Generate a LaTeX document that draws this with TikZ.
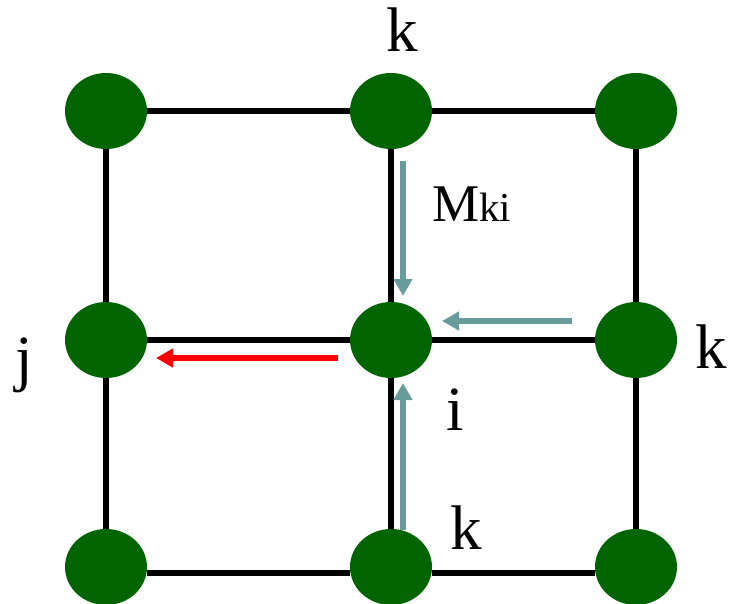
\documentclass[tikz,border=0pt]{standalone}
\usepackage{fontspec}
\setmainfont{Liberation Serif}
\usetikzlibrary{shapes.geometric,arrows.meta}

\definecolor{sitegreen}{RGB}{0,100,0}
\definecolor{msgteal}{RGB}{104,156,156}

\begin{document}
\begin{tikzpicture}[x=1pt, y=-1pt]
    \tikzset{site/.style={ellipse, fill=sitegreen, inner sep=0pt, minimum width=82pt, minimum height=76pt}}
    \tikzset{bond/.style={draw, line width=6pt}}
    \tikzset{msg/.style={draw, line width=6pt, -{Triangle[length=17pt, width=18pt]}}}
    \tikzset{lbl/.style={anchor=base, inner sep=0pt, font=\fontsize{63}{70}\selectfont}}

    \useasboundingbox (0,0) rectangle (730,604);

    % lattice sites
    \node [site] (n11) at (106,111) {};
    \node [site] (n12) at (391,111) {};
    \node [site] (n13) at (636,111) {};
    \node [site] (n21) at (106,340) {};
    \node [site] (n22) at (391,340) {};
    \node [site] (n23) at (636,340) {};
    \node [site] (n31) at (106,567) {};
    \node [site] (n32) at (391,567) {};
    \node [site] (n33) at (636,567) {};

    % bonds
    \path [bond] (n11) -- (n12);
    \path [bond] (n12) -- (n13);
    \path [bond] (n21) -- (n22);
    \path [bond] (n22) -- (n23);
    \path [bond] ([yshift=-6pt]n31.east) -- ([yshift=-6pt]n32.west);
    \path [bond] ([yshift=-6pt]n32.east) -- ([yshift=-6pt]n33.west);
    \path [bond] (n11) -- (n21);
    \path [bond] (n21) -- (n31);
    \path [bond] (n12) -- (n22);
    \path [bond] (n22) -- (n32);
    \path [bond] (n13) -- (n23);
    \path [bond] (n23) -- (n33);

    % messages
    \coordinate (top0) at (403,161);
    \coordinate (top1) at (403,296);
    \coordinate (rgt0) at (572,321);
    \coordinate (rgt1) at (442,321);
    \coordinate (bot0) at (403,530);
    \coordinate (bot1) at (403,383);
    \coordinate (out0) at (338,358);
    \coordinate (out1) at (156,358);
    \path [msg, msgteal] (top0) -- (top1);
    \path [msg, msgteal] (rgt0) -- (rgt1);
    \path [msg, msgteal] (bot0) -- (bot1);
    \path [msg, red] (out0) -- (out1);

    % labels
    \node [lbl] (ktop) at (402,52) {k};
    \node [lbl] (krgt) at (711,368) {k};
    \node [lbl] (kbot) at (466,549) {k};
    \node [lbl] (jlbl) at (24,379) {j};
    \node [lbl] (ilbl) at (455,430) {i};
    \node [lbl, anchor=base west, font=\fontsize{53}{60}\selectfont] (mki) at (432,221) {M{\fontsize{41}{46}\selectfont ki}};
\end{tikzpicture}
\end{document}
